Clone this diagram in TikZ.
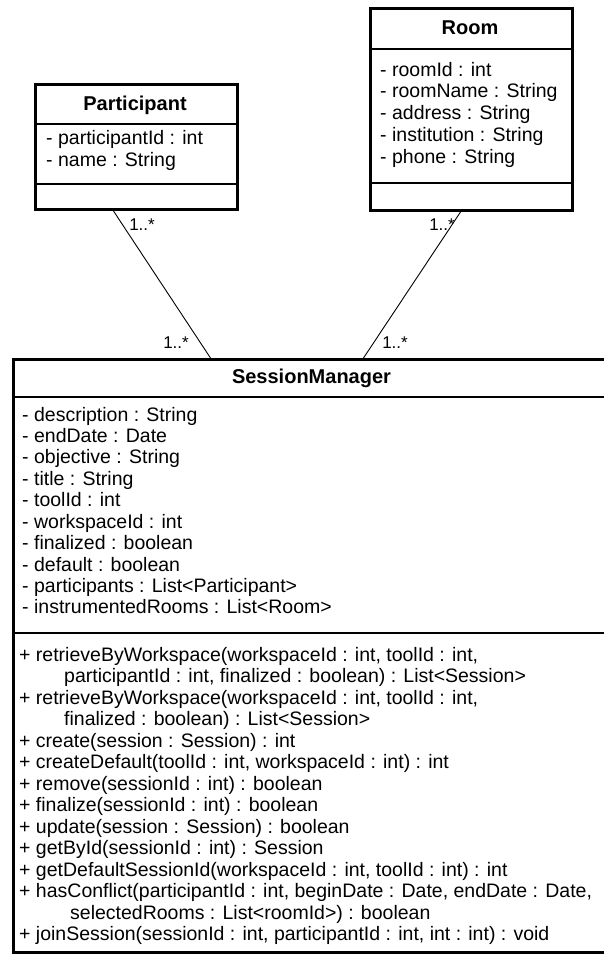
\documentclass[tikz,border=0pt]{standalone}
\usepackage{fontspec}
\setmainfont{Liberation Sans}
\begin{document}
\begin{tikzpicture}[x=1pt,y=-1pt,
  box/.style={draw, line width=3pt, rectangle, anchor=north west, inner sep=0pt},
  sep/.style={line width=1.4pt},
  conn/.style={line width=0.9pt},
  txt/.style={anchor=base west, inner sep=0pt, font=\fontsize{19.5}{21.5}\selectfont},
  ttl/.style={anchor=base, inner sep=0pt, font=\bfseries\fontsize{20}{22}\selectfont},
  mult/.style={anchor=base east, inner sep=0pt, font=\fontsize{17}{19}\selectfont},
]
\useasboundingbox (0,0) rectangle (603,954);

% ---------- Participant ----------
\node[box, minimum width=202pt, minimum height=125pt] (part) at (34,83) {};
\draw[sep] (part.west |- 0,124) -- (part.east |- 0,124);
\draw[sep] (part.west |- 0,184) -- (part.east |- 0,184);
\node[ttl] (ptitle) at (135,110) {Participant};
\node[txt] (pa1) at (46,144) {- participantId : int};
\node[txt] (pa2) at (46,166) {- name : String};

% ---------- Room ----------
\node[box, minimum width=202pt, minimum height=202pt] (room) at (369,7) {};
\draw[sep] (room.west |- 0,49) -- (room.east |- 0,49);
\draw[sep] (room.west |- 0,183) -- (room.east |- 0,183);
\node[ttl] (rtitle) at (470,34) {Room};
\node[txt] (ra1) at (380,76) {- roomId : int};
\node[txt] (ra2) at (380,97.75) {- roomName : String};
\node[txt] (ra3) at (380,119.5) {- address : String};
\node[txt] (ra4) at (380,141.25) {- institution : String};
\node[txt] (ra5) at (380,163) {- phone : String};

% ---------- SessionManager ----------
\node[box, minimum width=599pt, minimum height=593pt] (sm) at (12,358) {};
\draw[sep] (sm.west |- 0,397) -- (sm.east |- 0,397);
\draw[sep] (sm.west |- 0,633) -- (sm.east |- 0,633);
\node[ttl] (stitle) at (311.5,383) {SessionManager};

\foreach \t [count=\i] in {
  {- description : String},
  {- endDate : Date},
  {- objective : String},
  {- title : String},
  {- toolId : int},
  {- workspaceId : int},
  {- finalized : boolean},
  {- default : boolean},
  {- participants : List<Participant>},
  {- instrumentedRooms : List<Room>}}
  \node[txt] (sa\i) at (22,{421+21.44*(\i-1)}) {\t};

\node[txt] (so1)  at (19,661)   {+ retrieveByWorkspace(workspaceId : int, toolId : int,};
\node[txt] (so2)  at (64,682.5) {participantId : int, finalized : boolean) : List<Session>};
\node[txt] (so3)  at (19,704)   {+ retrieveByWorkspace(workspaceId : int, toolId : int,};
\node[txt] (so4)  at (64,725.5) {finalized : boolean) : List<Session>};
\node[txt] (so5)  at (19,747)   {+ create(session : Session) : int};
\node[txt] (so6)  at (19,768.5) {+ createDefault(toolId : int, workspaceId : int) : int};
\node[txt] (so7)  at (19,790)   {+ remove(sessionId : int) : boolean};
\node[txt] (so8)  at (19,811.5) {+ finalize(sessionId : int) : boolean};
\node[txt] (so9)  at (19,833)   {+ update(session : Session) : boolean};
\node[txt] (so10) at (19,854.5) {+ getById(sessionId : int) : Session};
\node[txt] (so11) at (19,876)   {+ getDefaultSessionId(workspaceId : int, toolId : int) : int};
\node[txt] (so12) at (19,897.5) {+ hasConflict(participantId : int, beginDate : Date, endDate : Date,};
\node[txt] (so13) at (70,919)   {selectedRooms : List<roomId>) : boolean};
\node[txt] (so14) at (19,940.5) {+ joinSession(sessionId : int, participantId : int, int : int) : void};

% ---------- associations ----------
\draw[conn] ([xshift=-23pt]part.south) -- ([xshift=-102.5pt]sm.north);
\draw[conn] ([xshift=-11pt]room.south) -- ([xshift=50.5pt]sm.north);
\node[mult] (m1) at (155,230) {1..*};
\node[mult] (m2) at (455,230) {1..*};
\node[mult] (m3) at (189,348) {1..*};
\node[mult] (m4) at (408,348) {1..*};
\end{tikzpicture}
\end{document}
